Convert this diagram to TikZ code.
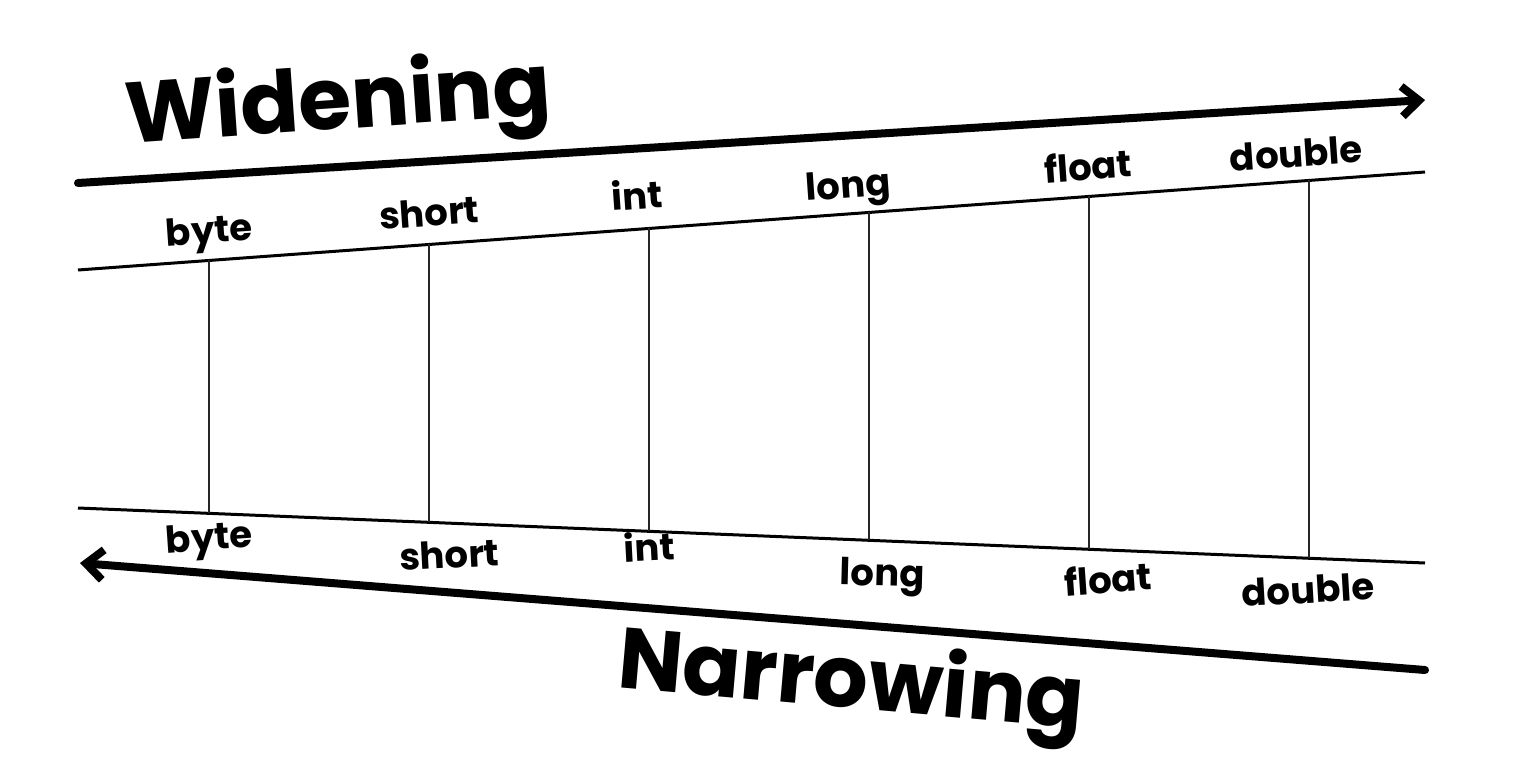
\documentclass[tikz,border=0pt]{standalone}
\usepackage{fontspec}
\setmainfont{Poppins}
\usetikzlibrary{arrows.meta,calc}
\tikzset{
  thickarrow/.style={line width=8pt,line cap=round,-{Straight Barb[length=17pt,width=30pt]}},
  rail/.style={line width=3pt},
  rung/.style={line width=1.4pt,black!85},
  typelabel/.style={anchor=base,inner sep=0pt,font=\bfseries\fontsize{37}{40}\selectfont},
  titlelabel/.style={anchor=base,inner sep=0pt,font=\bfseries\fontsize{86}{90}\selectfont},
}
\begin{document}
\begin{tikzpicture}[x=1pt,y=-1pt]
\useasboundingbox[fill=white] (0,0) rectangle (1536,768);
% rails
\coordinate (U1) at (78,270);
\coordinate (U2) at (1425,172);
\coordinate (L1) at (78,508);
\coordinate (L2) at (1425,563);
\coordinate (WA) at (78,183);
\coordinate (WB) at (1425,100);
\coordinate (NA) at (1425,670);
\coordinate (NB) at (80,563);
\draw[rail] (U1) -- (U2);
\draw[rail] (L1) -- (L2);
\draw[thickarrow] (WA) -- (WB);
\draw[thickarrow] (NA) -- (NB);
% rungs
\foreach \n/\x in {byte/209,short/429,int/649,long/869,float/1089,double/1309}{
  \coordinate (t\n) at ($(U1)!{(\x-78)/1347}!(U2)$);
  \coordinate (b\n) at ($(L1)!{(\x-78)/1347}!(L2)$);
  \draw[rung] (t\n) -- (b\n);
}
% top labels
\node[typelabel,rotate=4] (ubyte) at (210,243) {byte};
\node[typelabel,rotate=4] (ushort) at (430,226) {short};
\node[typelabel,rotate=4] (uint) at (638,209) {int};
\node[typelabel,rotate=4] (ulong) at (849,198) {long};
\node[typelabel,rotate=4] (ufloat) at (1089,180) {float};
\node[typelabel,rotate=4] (udouble) at (1297,167) {double};
% bottom labels
\node[typelabel,rotate=4] (lbyte) at (210,550) {byte};
\node[typelabel,rotate=3] (lshort) at (450,568) {short};
\node[typelabel,rotate=3] (lint) at (650,561) {int};
\node[typelabel,rotate=-1.5] (llong) at (882,586) {long};
\node[typelabel,rotate=4] (lfloat) at (1109,593) {float};
\node[typelabel,rotate=3.4] (ldouble) at (1309,603) {double};
% titles
\node[titlelabel,rotate=4] (widen) at (340,129) {Widening};
\node[titlelabel,rotate=-5] (narrow) at (849,708) {Narrowing};
\end{tikzpicture}
\end{document}
